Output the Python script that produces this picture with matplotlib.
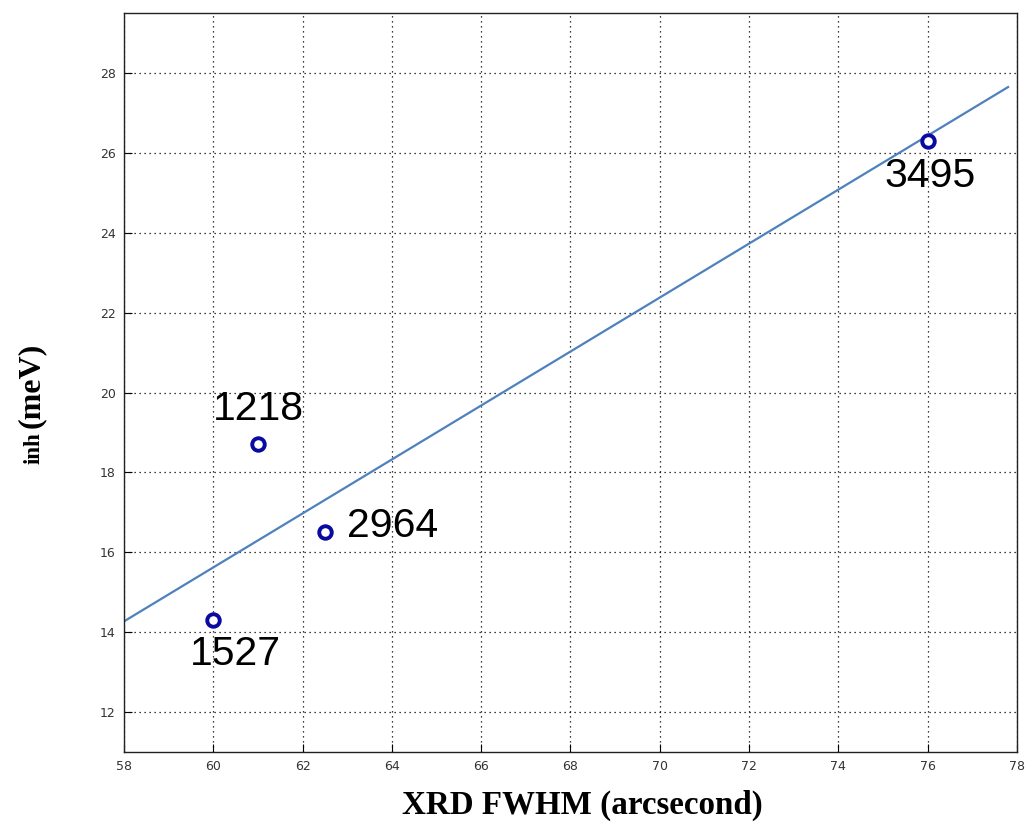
import matplotlib
matplotlib.use("Agg")
import matplotlib.pyplot as plt

# data
fwhm = [60.0, 61.0, 62.5, 76.0]
gamma_inh = [14.3, 18.7, 16.5, 26.3]
sample_ids = ["1527", "1218", "2964", "3495"]

fit_x = [58.0, 77.8]
fit_y = [14.27, 27.65]

xticks = list(range(58, 79, 2))
yticks = list(range(12, 29, 2))

# label anchors (data units) and alignment for each sample id
label_xy = [(60.5, 13.45), (61.0, 19.6), (63.0, 16.65), (76.05, 25.42)]
label_ha = ["center", "center", "left", "center"]

fig = plt.figure(figsize=(10.28, 8.23), dpi=100)
ax = fig.add_axes([0.1206, 0.0863, 0.8687, 0.8977])

ax.plot(fit_x, fit_y, color="#4f81bd", lw=1.6, zorder=2)
ax.plot(fwhm, gamma_inh, "o", ms=9, mfc="white", mec="#0a0aa0", mew=2.8,
        ls="none", zorder=3)

for txt, (lx, ly), ha in zip(sample_ids, label_xy, label_ha):
    ax.text(lx, ly, txt, ha=ha, va="center", fontsize=29.5,
            family="Liberation Sans", color="black")

ax.set_xlim(58, 78)
ax.set_ylim(11, 29.5)
ax.set_xticks(xticks)
ax.set_yticks(yticks)
ax.tick_params(direction="in", length=6, width=0.8, labelsize=9,
               labelcolor="#333333", pad=6)
ax.grid(True, ls=(0, (1, 3)), color="black", lw=0.9)
for s in ax.spines.values():
    s.set_linewidth(1.0)
    s.set_color("#222222")

fig.text(0.5665, 0.021, "XRD FWHM (arcsecond)", ha="center", va="center",
         fontsize=23.8, fontweight="bold", family="Liberation Serif")
fig.text(0.0305, 0.532, "(meV)", rotation=90, ha="center", va="center",
         fontsize=23, fontweight="bold", family="Liberation Serif")
fig.text(0.0335, 0.4557, "inh", rotation=90, ha="center", va="center",
         fontsize=16.5, fontweight="bold", family="Liberation Serif")

fig.savefig("out.png", dpi=100)
